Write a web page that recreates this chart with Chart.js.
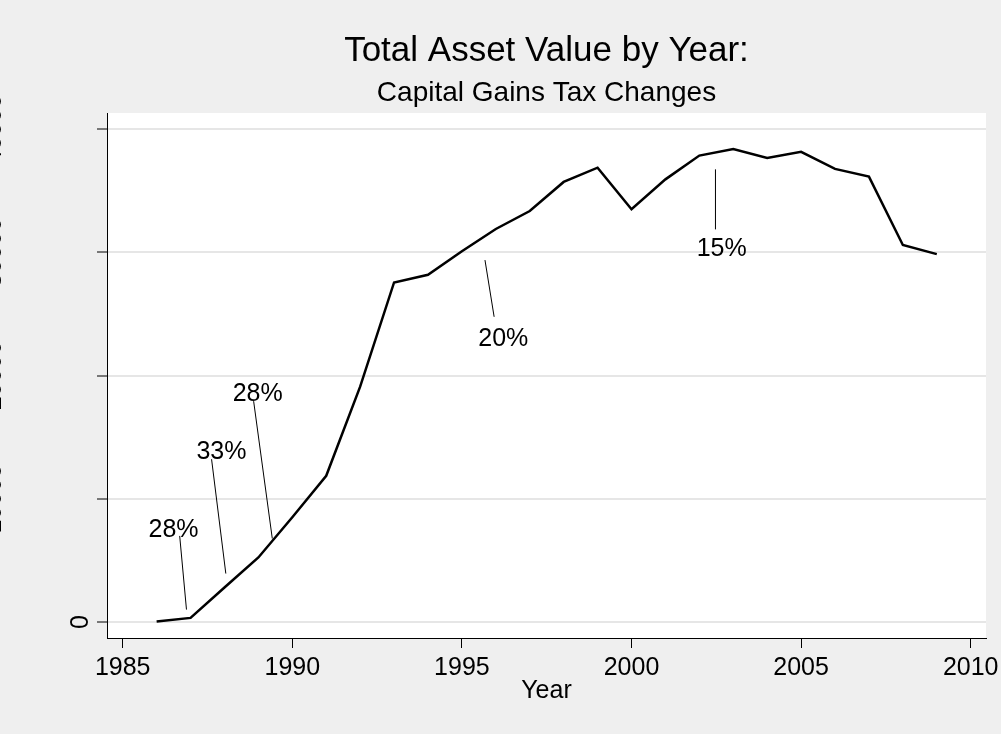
<!DOCTYPE html>
<html>
<head>
<meta charset="utf-8">
<script src="https://cdn.jsdelivr.net/npm/chart.js@4.4.0/dist/chart.umd.min.js"></script>
<style>
html,body{margin:0;padding:0;background:#efefef;}
canvas{display:block;}
</style>
</head>
<body>
<canvas id="c" width="1001" height="734"></canvas>
<script>
// ---- data ----
const years = [1986,1987,1988,1989,1990,1991,1992,1993,1994,1995,1996,1997,1998,1999,2000,2001,2002,2003,2004,2005,2006,2007,2008,2009];
const assetValues = [30,330,2800,5240,8500,11870,19100,27560,28180,30100,31900,33360,35720,36880,33500,35930,37860,38400,37670,38160,36780,36150,30600,29860];
const xTickValues = [1985,1990,1995,2000,2005,2010];
const yTickValues = [0,10000,20000,30000,40000];

// tax-rate annotations (data units)
const annoLabels = ['28%','33%','28%','20%','15%'];
const annoTextX  = [1986.50,1987.91,1988.98,1996.22,2002.66];
const annoTextY  = [6900,13190,17925,22390,29700];
const annoLineX1 = [1986.68,1987.62,1988.86,1995.68,2002.475];
const annoLineY1 = [6985,13214,17925,29378,36742];
const annoLineX2 = [1986.88,1988.04,1989.41,1995.95,2002.475];
const annoLineY2 = [1007,3931,6773,24771,31869];

const FONT = '"Liberation Sans", Arial, Helvetica, sans-serif';
Chart.defaults.font.family = FONT;
Chart.defaults.color = '#000';

const bgPlugin = {
  id: 'bg',
  beforeDraw(chart) {
    const {ctx, chartArea: a} = chart;
    ctx.save();
    ctx.fillStyle = '#efefef';
    ctx.fillRect(0, 0, chart.width, chart.height);
    ctx.fillStyle = '#ffffff';
    ctx.fillRect(a.left, a.top, a.right - a.left, a.bottom - a.top);
    ctx.restore();
  }
};

const yLabelPlugin = {
  id: 'ylabels',
  afterDraw(chart) {
    const ctx = chart.ctx, ys = chart.scales.y;
    ctx.save();
    ctx.font = '25px ' + FONT;
    ctx.fillStyle = '#000';
    ctx.textAlign = 'center';
    ctx.textBaseline = 'alphabetic';
    ys.ticks.forEach(t => {
      const label = String(t.value);
      const py = ys.getPixelForValue(t.value);
      const bx = ys.right - (label.length > 1 ? 106 : 19.5);
      ctx.save();
      ctx.translate(bx, py);
      ctx.rotate(-Math.PI / 2);
      ctx.fillText(label, 0, 0);
      ctx.restore();
    });
    ctx.restore();
  }
};

const annoPlugin = {
  id: 'annos',
  afterDatasetsDraw(chart) {
    const ctx = chart.ctx, xs = chart.scales.x, ys = chart.scales.y;
    ctx.save();
    ctx.strokeStyle = '#000';
    ctx.lineWidth = 1;
    ctx.fillStyle = '#000';
    ctx.font = '25px ' + FONT;
    ctx.textAlign = 'center';
    ctx.textBaseline = 'alphabetic';
    annoLabels.forEach((lab, i) => {
      ctx.beginPath();
      ctx.moveTo(xs.getPixelForValue(annoLineX1[i]), ys.getPixelForValue(annoLineY1[i]));
      ctx.lineTo(xs.getPixelForValue(annoLineX2[i]), ys.getPixelForValue(annoLineY2[i]));
      ctx.stroke();
      ctx.fillText(lab, xs.getPixelForValue(annoTextX[i]), ys.getPixelForValue(annoTextY[i]));
    });
    ctx.restore();
  }
};

function zeroPad(s) { s.paddingLeft = 0; s.paddingRight = 0; s.paddingTop = 0; s.paddingBottom = 0; }

new Chart(document.getElementById('c'), {
  type: 'line',
  data: {
    datasets: [{
      data: years.map((yr, i) => ({x: yr, y: assetValues[i]})),
      borderColor: '#000',
      borderWidth: 2.5,
      pointRadius: 0,
      tension: 0,
      fill: false
    }]
  },
  options: {
    responsive: false,
    animation: false,
    devicePixelRatio: 1,
    layout: { padding: { left: 0, right: 15, top: 0, bottom: 0 } },
    plugins: {
      legend: { display: false },
      tooltip: { enabled: false },
      title: {
        display: true, text: 'Total Asset Value by Year:', fullSize: false,
        font: { size: 35, weight: 'normal' }, color: '#000',
        padding: { top: 30.2, bottom: 0 }
      },
      subtitle: {
        display: true, text: 'Capital Gains Tax Changes', fullSize: false,
        font: { size: 28, weight: 'normal' }, color: '#000',
        padding: { top: 4.0, bottom: 3.2 }
      }
    },
    scales: {
      x: {
        type: 'linear', position: 'bottom',
        min: 1984.537, max: 2010.451,
        afterBuildTicks: s => { s.ticks = xTickValues.map(v => ({value: v})); },
        afterFit: s => { s.height = 96; zeroPad(s); },
        ticks: { font: { size: 25 }, padding: 5, maxRotation: 0, autoSkip: false, color: '#000', callback: v => String(v) },
        grid: { drawOnChartArea: false, drawTicks: true, tickLength: 10, tickColor: '#000', tickWidth: 1 },
        border: { display: true, color: '#000', width: 1 },
        title: { display: true, text: 'Year', font: { size: 25 }, color: '#000', padding: { top: 0, bottom: 27.6 } }
      },
      y: {
        type: 'linear', position: 'left',
        min: -1300, max: 41316,
        afterBuildTicks: s => { s.ticks = yTickValues.map(v => ({value: v})); },
        afterFit: s => { s.width = 107; zeroPad(s); },
        ticks: { display: false },
        grid: { color: '#e6e6e6', lineWidth: 2, drawTicks: true, tickLength: 10, tickColor: '#000', tickWidth: 1 },
        border: { display: true, color: '#000', width: 1 }
      }
    }
  },
  plugins: [bgPlugin, annoPlugin, yLabelPlugin]
});
</script>
</body>
</html>
